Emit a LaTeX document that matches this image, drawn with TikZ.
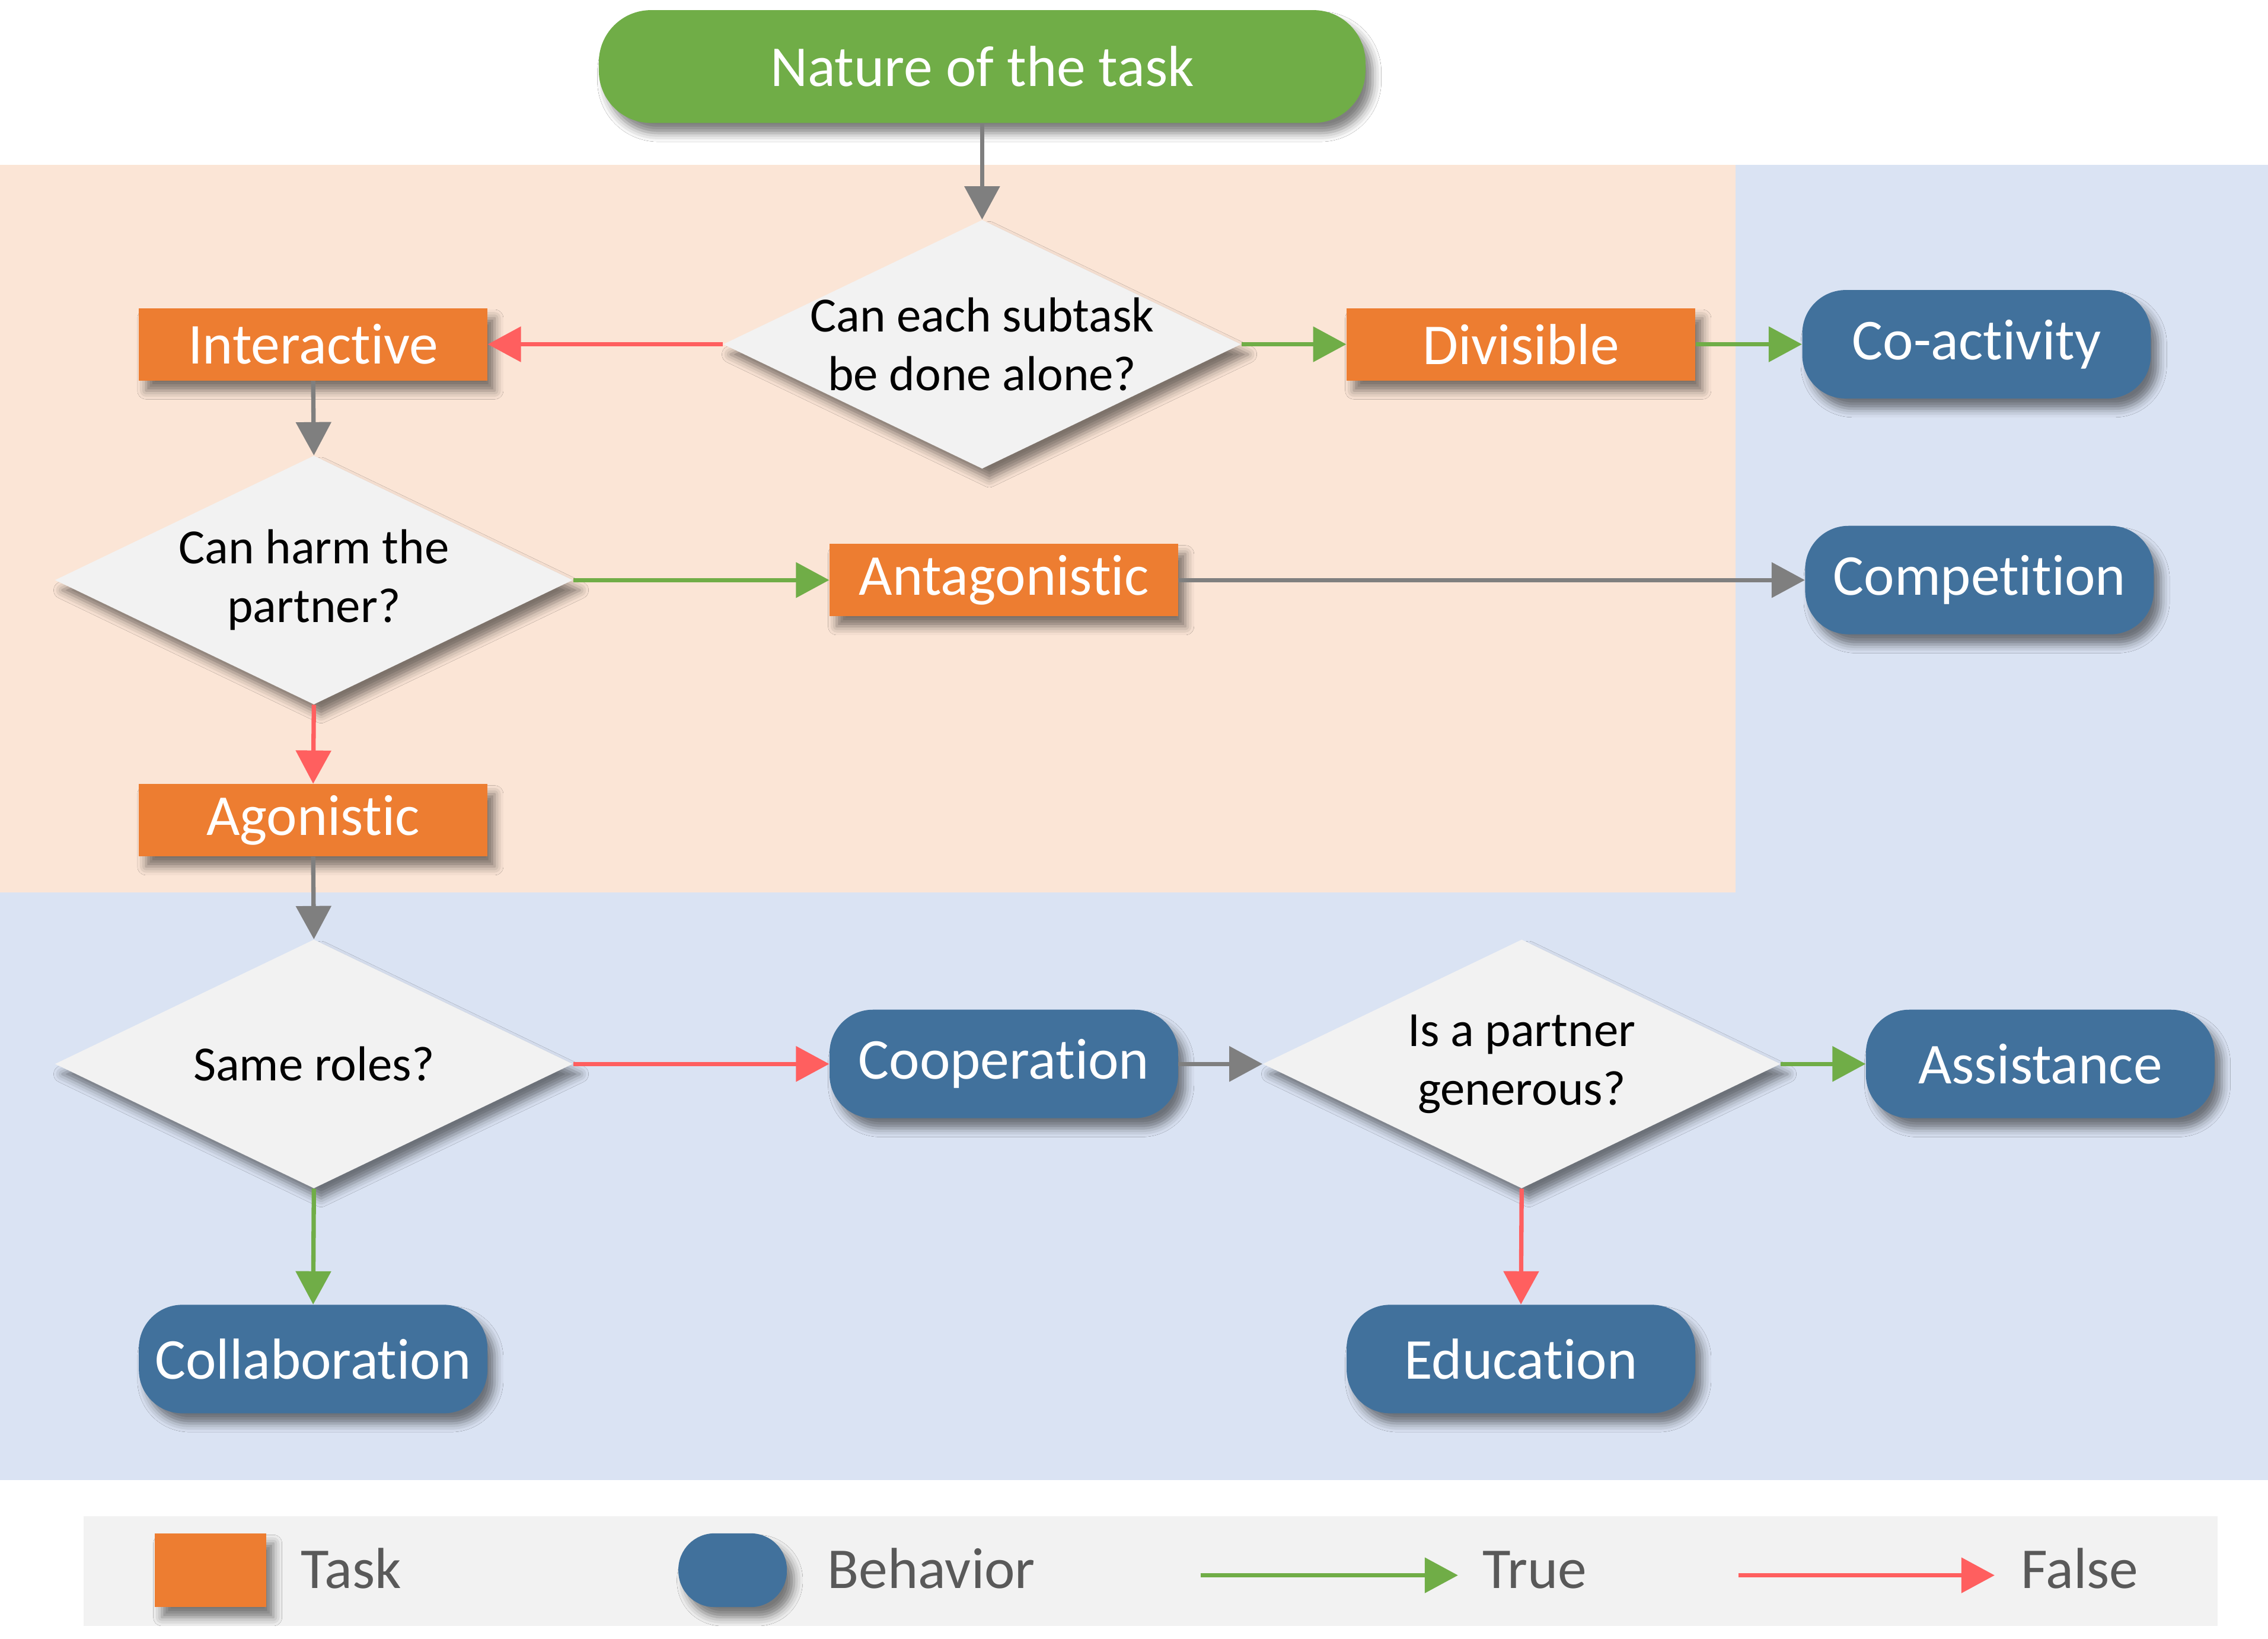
\documentclass[tikz,border=0pt]{standalone}
\usepackage{fontspec}
\setmainfont{Carlito}[Ligatures={NoCommon,NoContextual},Contextuals=NoAlternate]
\usetikzlibrary{arrows.meta,shapes.geometric,shadows.blur}
\definecolor{peach}{RGB}{251,229,214}
\definecolor{bluebg}{RGB}{218,227,243}
\definecolor{ngreen}{RGB}{112,173,71}
\definecolor{norange}{RGB}{237,125,49}
\definecolor{nblue}{RGB}{65,113,156}
\definecolor{dfill}{RGB}{242,242,242}
\definecolor{egrey}{RGB}{127,127,127}
\definecolor{ered}{RGB}{255,95,95}
\definecolor{ltext}{RGB}{89,89,89}
\begin{document}
\begin{tikzpicture}[x=1pt,y=-1pt,
  shd/.style={blur shadow={shadow xshift=5pt,shadow yshift=-7pt,shadow blur radius=6pt,shadow opacity=50}},
  bigtext/.style={text=white,font=\fontsize{40}{48}\selectfont},
  naturebox/.style={shd,fill=ngreen,rounded corners=36pt,minimum width=530pt,minimum height=78pt,inner sep=0pt,bigtext},
  taskbox/.style={shd,fill=norange,minimum width=241pt,minimum height=50pt,inner sep=0pt,bigtext},
  behav/.style={shd,fill=nblue,rounded corners=30pt,minimum width=241pt,minimum height=75pt,inner sep=0pt,bigtext},
  decision/.style={shd,diamond,fill=dfill,minimum width=358pt,minimum height=172pt,inner sep=0pt},
  dtext/.style={align=center,font=\fontsize{34}{40.5}\selectfont,text=black,inner sep=0pt},
  conn/.style={line width=3pt,-{Triangle[length=23pt,width=24pt]}},
  grey/.style={conn,draw=egrey,fill=egrey},
  yes/.style={conn,draw=ngreen,fill=ngreen},
  no/.style={conn,draw=ered,fill=ered},
  legtext/.style={anchor=base west,text=ltext,font=\fontsize{40}{48}\selectfont,inner sep=0pt}
]
\useasboundingbox (0,0) rectangle (1568,1133);
\fill[white] (0,0) rectangle (1568,1133);
% background regions
\fill[peach] (0,114) rectangle (1200,617);
\fill[bluebg] (1200,114) rectangle (1568,617);
\fill[bluebg] (0,617) rectangle (1568,1023);
% nodes
\node[naturebox] (nature) at (679,46) {Nature of the task};
\node[decision,label={[dtext]center:{Can each subtask\\be done alone?}}] (d1) at (679,238) {};
\node[taskbox] (interactive) at (216.5,238) {Interactive};
\node[taskbox] (divisible) at (1051.5,238) {Divisible};
\node[behav] (coactivity) at (1366.5,238) {Co-activity};
\node[decision,label={[dtext]center:{Can harm the\\partner?}}] (d2) at (217,401) {};
\node[taskbox] (antagonistic) at (694,401) {Antagonist\kern0pt ic};
\node[behav] (competition) at (1368.5,401) {Competition};
\node[taskbox] (agonistic) at (216.5,567) {Agonist\kern0pt ic};
\node[decision,label={[dtext]center:{Same roles?}}] (d3) at (217,735.5) {};
\node[behav] (cooperation) at (694,735.5) {Cooperation};
\node[decision,label={[dtext]center:{Is a partner\\generous?}}] (d4) at (1052,735.5) {};
\node[behav] (assistance) at (1410.5,735.5) {Assistance};
\node[behav] (collaboration) at (216.5,939.5) {Collaboration};
\node[behav] (education) at (1051.5,939.5) {Education};
% connectors
\draw[grey] (nature.south) -- (d1.north);
\draw[no] (d1.west) -- (interactive.east);
\draw[yes] (d1.east) -- (divisible.west);
\draw[yes] (divisible.east) -- (coactivity.west);
\draw[grey] (interactive.south) -- (d2.north);
\draw[yes] (d2.east) -- (antagonistic.west);
\draw[grey] (antagonistic.east) -- (competition.west);
\draw[no] (d2.south) -- (agonistic.north);
\draw[grey] (agonistic.south) -- (d3.north);
\draw[no] (d3.east) -- (cooperation.west);
\draw[yes] (d3.south) -- (collaboration.north);
\draw[grey] (cooperation.east) -- (d4.west);
\draw[yes] (d4.east) -- (assistance.west);
\draw[no] (d4.south) -- (education.north);
% legend
\fill[dfill] (58,1048) rectangle (1533,1124);
\node[shd,fill=norange,minimum width=77pt,minimum height=51pt,inner sep=0pt] (legtask) at (145.5,1085.5) {};
\node[legtext] (lt1) at (208,1098) {Task};
\node[shd,fill=nblue,rounded corners=25pt,minimum width=75pt,minimum height=51pt,inner sep=0pt] (legbeh) at (506.5,1085.5) {};
\node[legtext] (lt2) at (572,1098) {Behavior};
\coordinate (ta) at (830,1089);
\coordinate (tb) at (1008,1089);
\draw[yes] (ta) -- (tb);
\node[legtext] (lt3) at (1025,1098) {True};
\coordinate (fa) at (1202,1089);
\coordinate (fb) at (1379,1089);
\draw[no] (fa) -- (fb);
\node[legtext] (lt4) at (1397,1098) {False};
\end{tikzpicture}
\end{document}
